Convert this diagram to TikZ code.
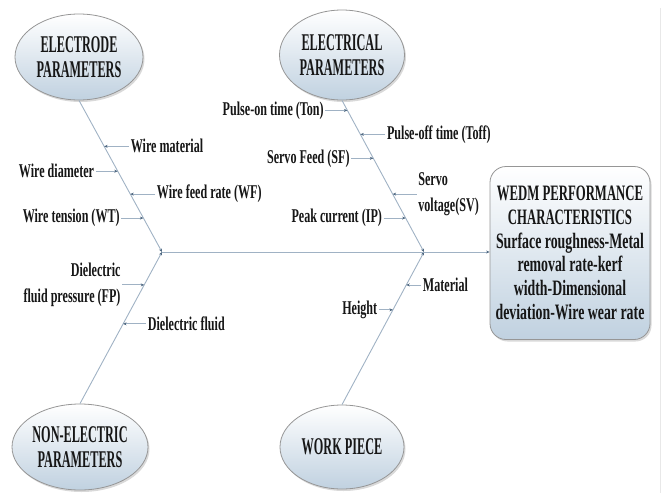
\documentclass[tikz,border=0pt]{standalone}
\usepackage{fontspec}
\setmainfont{Liberation Serif}
\newfontfamily\lblf{Liberation Serif}[FakeStretch=0.62]
\newfontfamily\ellf{Liberation Serif}[FakeStretch=0.51]
\newfontfamily\boxf{Liberation Serif}[FakeStretch=0.58]
\newfontfamily\boxg{Liberation Serif}[FakeStretch=0.63]
\usetikzlibrary{arrows.meta,shapes.geometric,shadows,calc}
\definecolor{bone}{RGB}{160,178,196}
\definecolor{tipc}{RGB}{80,105,130}
\definecolor{txt}{RGB}{22,22,22}
\definecolor{fillb}{RGB}{192,209,224}
\definecolor{edge}{RGB}{150,150,150}
\begin{document}
\begin{tikzpicture}[x=1pt,y=-1pt,
 cat/.style={ellipse, draw=edge, line width=0.8pt, top color=white, bottom color=fillb,
   drop shadow={shadow xshift=1.5pt, shadow yshift=-2pt, opacity=0.3},
   align=center, text=txt, font=\ellf\bfseries\fontsize{24}{24.5}\selectfont, inner sep=0pt},
 lbl/.style={text=txt, font=\lblf\bfseries\fontsize{19.5}{26.5}\selectfont, inner sep=1.5pt},
 bonel/.style={draw=bone, line width=0.9pt},
 sub/.style={draw=bone, line width=0.9pt, -{Stealth[length=3.5pt,width=3pt,color=tipc]}},
]
\useasboundingbox (0,0) rectangle (665,493);
\draw[gray!18, line width=1pt] (660,8) -- (660,493);

\node[cat, minimum width=128, minimum height=86] (e1) at (79,57) {ELECTRODE\\PARAMETERS};
\node[cat, minimum width=125, minimum height=90] (e2) at (342,55) {ELECTRICAL\\PARAMETERS};
\node[cat, minimum width=136, minimum height=86] (e3) at (80,447) {NON-ELECTRIC\\PARAMETERS};
\node[cat, minimum width=124, minimum height=84] (e4) at (342,447) {WORK PIECE};

\node[draw=edge, line width=0.8pt, rounded corners=16pt, minimum width=160, minimum height=173,
  top color=white, bottom color=fillb, drop shadow={shadow xshift=1.5pt, shadow yshift=-2pt, opacity=0.3},
  align=center, text=txt, font=\boxf\bfseries\fontsize{22}{23.7}\selectfont, inner sep=0pt]
  (perf) at (570,253) {WEDM PERFORMANCE\\CHARACTERISTICS\\{\boxg Surface roughness-Metal}\\{\boxg removal rate-kerf}\\{\boxg width-Dimensional}\\{\boxg deviation-Wire wear rate}};

\coordinate (j1) at (162,252);
\coordinate (j2) at (424,252);

\draw[sub] (e1.south) -- (j1);
\draw[sub] (e2.south) -- (j2);
\draw[sub] (e3.north) -- (j1);
\draw[sub] (e4.north) -- (j2);
\draw[bonel] (j1) -- (j2);
\draw[sub] (j2) -- (perf.west |- j2);

% points on the bones
\coordinate (p1) at ($(e1.south)!0.303!(j1)$);
\coordinate (p2) at ($(e1.south)!0.467!(j1)$);
\coordinate (p3) at ($(e1.south)!0.618!(j1)$);
\coordinate (p4) at ($(e1.south)!0.776!(j1)$);
\coordinate (q1) at ($(e2.south)!0.066!(j2)$);
\coordinate (q2) at ($(e2.south)!0.224!(j2)$);
\coordinate (q3) at ($(e2.south)!0.382!(j2)$);
\coordinate (q4) at ($(e2.south)!0.618!(j2)$);
\coordinate (q5) at ($(e2.south)!0.776!(j2)$);
\coordinate (r1) at ($(j1)!0.217!(e3.north)$);
\coordinate (r2) at ($(j1)!0.474!(e3.north)$);
\coordinate (s1) at ($(j2)!0.216!(e4.north)$);
\coordinate (s2) at ($(j2)!0.379!(e4.north)$);

\node[lbl, anchor=west] (wm) at ([xshift=25pt]p1) {Wire material};
\node[lbl, anchor=east] (wd) at ([xshift=-22pt]p2) {Wire diameter};
\node[lbl, anchor=west] (wf) at ([xshift=25pt]p3) {Wire feed rate (WF)};
\node[lbl, anchor=east] (wt) at ([xshift=-22pt]p4) {Wire tension (WT)};
\node[lbl, anchor=east] (ton) at ([xshift=-22pt]q1) {Pulse-on time (Ton)};
\node[lbl, anchor=west] (toff) at ([xshift=25pt]q2) {Pulse-off time (Toff)};
\node[lbl, anchor=east] (sf) at ([xshift=-22pt]q3) {Servo Feed (SF)};
\node[lbl, anchor=west, align=left] (sv) at ([xshift=24pt]q4) {Servo\\voltage(SV)};
\node[lbl, anchor=east] (ip) at ([xshift=-22pt]q5) {Peak current (IP)};
\node[lbl, anchor=east, align=right] (fp) at ([xshift=-22pt]r1) {Dielectric\\fluid pressure (FP)};
\node[lbl, anchor=west] (df) at ([xshift=23pt]r2) {Dielectric fluid};
\node[lbl, anchor=west] (mat) at ([xshift=15pt]s1) {Material};
\node[lbl, anchor=east] (ht) at ([xshift=-14pt]s2) {Height};

\draw[sub] (wm.west) -- (p1);
\draw[sub] (wd.east) -- (p2);
\draw[sub] (wf.west) -- (p3);
\draw[sub] (wt.east) -- (p4);
\draw[sub] (ton.east) -- (q1);
\draw[sub] (toff.west) -- (q2);
\draw[sub] (sf.east) -- (q3);
\draw[sub] (sv.west) -- (q4);
\draw[sub] (ip.east) -- (q5);
\draw[sub] (fp.east) -- (r1);
\draw[sub] (df.west) -- (r2);
\draw[sub] (mat.west) -- (s1);
\draw[sub] (ht.east) -- (s2);
\end{tikzpicture}
\end{document}
